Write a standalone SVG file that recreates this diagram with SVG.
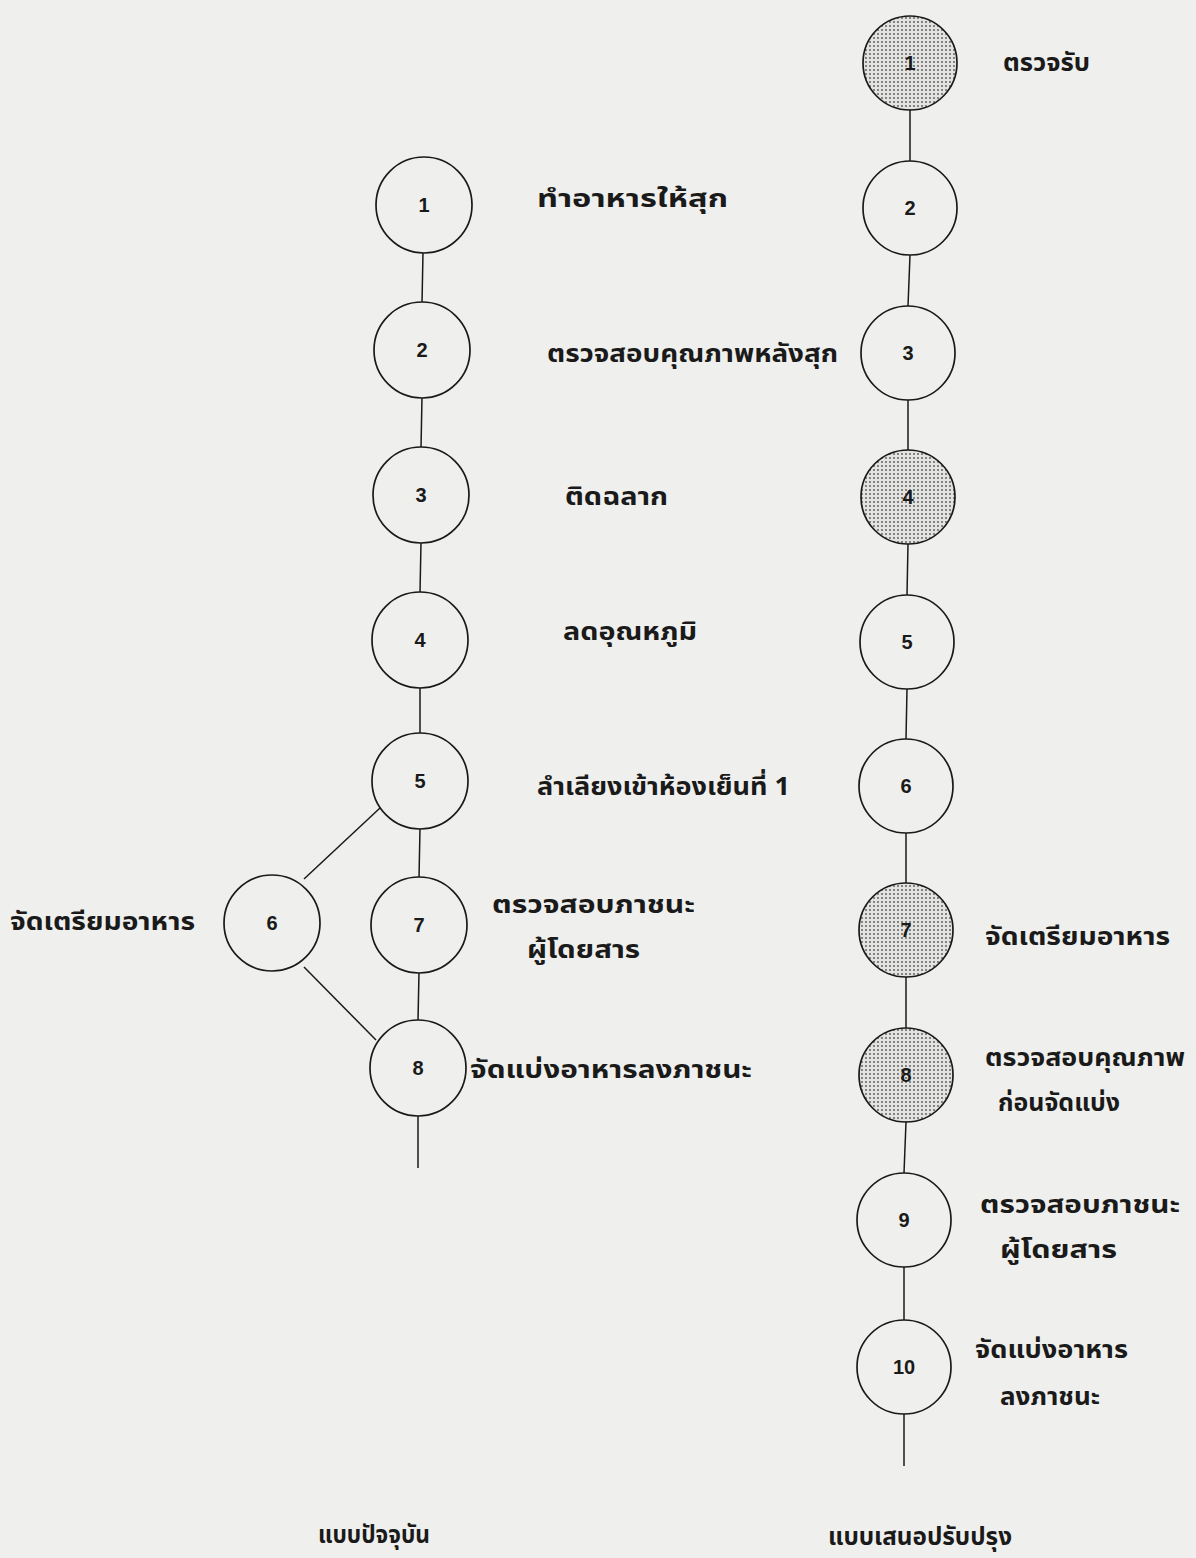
<svg xmlns="http://www.w3.org/2000/svg" width="1196" height="1558" viewBox="0 0 1196 1558">
<style>
.bg{fill:#efefed}
.c{fill:#efefed;stroke:#1a1a1a;stroke-width:1.7}
.s{fill:url(#dots);stroke:#1a1a1a;stroke-width:1.7}
.n{font-family:"Liberation Sans",Arial,sans-serif;font-weight:bold;font-size:20px;fill:#1a1a1a;text-anchor:middle;dominant-baseline:central}
.t{font-family:"Noto Sans Thai","Noto Sans","DejaVu Sans",sans-serif;font-weight:bold;font-size:25px;fill:#1a1a1a;dominant-baseline:central}
.e line{stroke:#1a1a1a;stroke-width:1.5}
</style>
<defs>
<pattern id="dots" width="4" height="4" patternUnits="userSpaceOnUse">
<rect width="4" height="4" fill="#e3e3e1"/>
<circle cx="2" cy="2" r="0.9" fill="#555"/>
</pattern>
</defs>
<rect class="bg" width="1196" height="1558"/>
<g id="connectors" class="e">
<line x1="423" y1="252" x2="422" y2="304"/>
<line x1="422" y1="397" x2="421" y2="448"/>
<line x1="421" y1="542" x2="420" y2="593"/>
<line x1="420" y1="687" x2="420" y2="734"/>
<line x1="420" y1="828" x2="419" y2="878"/>
<line x1="419" y1="972" x2="418" y2="1021"/>
<line x1="418" y1="1115" x2="418" y2="1168"/>
<line x1="380" y1="808" x2="304" y2="879"/>
<line x1="304" y1="967" x2="376" y2="1040"/>
<line x1="910" y1="110" x2="910" y2="161"/>
<line x1="910" y1="255" x2="908" y2="306"/>
<line x1="908" y1="400" x2="908" y2="450"/>
<line x1="908" y1="544" x2="907" y2="595"/>
<line x1="907" y1="689" x2="906" y2="739"/>
<line x1="906" y1="833" x2="906" y2="883"/>
<line x1="906" y1="977" x2="906" y2="1028"/>
<line x1="906" y1="1122" x2="904" y2="1173"/>
<line x1="904" y1="1267" x2="904" y2="1320"/>
<line x1="904" y1="1414" x2="904" y2="1466"/>
</g>
<g id="L1"><circle class="c" cx="424" cy="205" r="48"/><text class="n" x="424" y="205">1</text><text class="t" x="537" y="199" textLength="191" lengthAdjust="spacingAndGlyphs">ทำอาหารให้สุก</text></g>
<g id="L2"><circle class="c" cx="422" cy="350" r="48"/><text class="n" x="422" y="350">2</text><text class="t" x="547" y="354" textLength="291" lengthAdjust="spacingAndGlyphs">ตรวจสอบคุณภาพหลังสุก</text></g>
<g id="L3"><circle class="c" cx="421" cy="495" r="48"/><text class="n" x="421" y="495">3</text><text class="t" x="565" y="497" textLength="103" lengthAdjust="spacingAndGlyphs">ติดฉลาก</text></g>
<g id="L4"><circle class="c" cx="420" cy="640" r="48"/><text class="n" x="420" y="640">4</text><text class="t" x="563" y="632" textLength="134" lengthAdjust="spacingAndGlyphs">ลดอุณหภูมิ</text></g>
<g id="L5"><circle class="c" cx="420" cy="781" r="48"/><text class="n" x="420" y="781">5</text><text class="t" x="537" y="787" textLength="253" lengthAdjust="spacingAndGlyphs">ลำเลียงเข้าห้องเย็นที่ 1</text></g>
<g id="L6"><circle class="c" cx="272" cy="923" r="48"/><text class="n" x="272" y="923">6</text><text class="t" x="10" y="922" textLength="185" lengthAdjust="spacingAndGlyphs">จัดเตรียมอาหาร</text></g>
<g id="L7"><circle class="c" cx="419" cy="925" r="48"/><text class="n" x="419" y="925">7</text><text class="t" x="492" y="905" textLength="203" lengthAdjust="spacingAndGlyphs">ตรวจสอบภาชนะ</text><text class="t" x="527" y="950" textLength="113" lengthAdjust="spacingAndGlyphs">ผู้โดยสาร</text></g>
<g id="L8"><circle class="c" cx="418" cy="1068" r="48"/><text class="n" x="418" y="1068">8</text><text class="t" x="470" y="1070" textLength="282" lengthAdjust="spacingAndGlyphs">จัดแบ่งอาหารลงภาชนะ</text></g>
<g id="R1"><circle class="s" cx="910" cy="63" r="47"/><text class="n" x="910" y="63">1</text><text class="t" x="1003" y="63" textLength="87" lengthAdjust="spacingAndGlyphs">ตรวจรับ</text></g>
<g id="R2"><circle class="c" cx="910" cy="208" r="47"/><text class="n" x="910" y="208">2</text></g>
<g id="R3"><circle class="c" cx="908" cy="353" r="47"/><text class="n" x="908" y="353">3</text></g>
<g id="R4"><circle class="s" cx="908" cy="497" r="47"/><text class="n" x="908" y="497">4</text></g>
<g id="R5"><circle class="c" cx="907" cy="642" r="47"/><text class="n" x="907" y="642">5</text></g>
<g id="R6"><circle class="c" cx="906" cy="786" r="47"/><text class="n" x="906" y="786">6</text></g>
<g id="R7"><circle class="s" cx="906" cy="930" r="47"/><text class="n" x="906" y="930">7</text><text class="t" x="985" y="937" textLength="185" lengthAdjust="spacingAndGlyphs">จัดเตรียมอาหาร</text></g>
<g id="R8"><circle class="s" cx="906" cy="1075" r="47"/><text class="n" x="906" y="1075">8</text><text class="t" x="985" y="1058" textLength="200" lengthAdjust="spacingAndGlyphs">ตรวจสอบคุณภาพ</text><text class="t" x="998" y="1103" textLength="122" lengthAdjust="spacingAndGlyphs">ก่อนจัดแบ่ง</text></g>
<g id="R9"><circle class="c" cx="904" cy="1220" r="47"/><text class="n" x="904" y="1220">9</text><text class="t" x="980" y="1205" textLength="200" lengthAdjust="spacingAndGlyphs">ตรวจสอบภาชนะ</text><text class="t" x="1000" y="1250" textLength="117" lengthAdjust="spacingAndGlyphs">ผู้โดยสาร</text></g>
<g id="R10"><circle class="c" cx="904" cy="1367" r="47"/><text class="n" x="904" y="1367">10</text><text class="t" x="975" y="1350" textLength="153" lengthAdjust="spacingAndGlyphs">จัดแบ่งอาหาร</text><text class="t" x="1000" y="1397" textLength="100" lengthAdjust="spacingAndGlyphs">ลงภาชนะ</text></g>
<g id="captions"><text class="t" x="318" y="1535" textLength="112" lengthAdjust="spacingAndGlyphs">แบบปัจจุบัน</text><text class="t" x="828" y="1537" textLength="184" lengthAdjust="spacingAndGlyphs">แบบเสนอปรับปรุง</text></g>
</svg>
